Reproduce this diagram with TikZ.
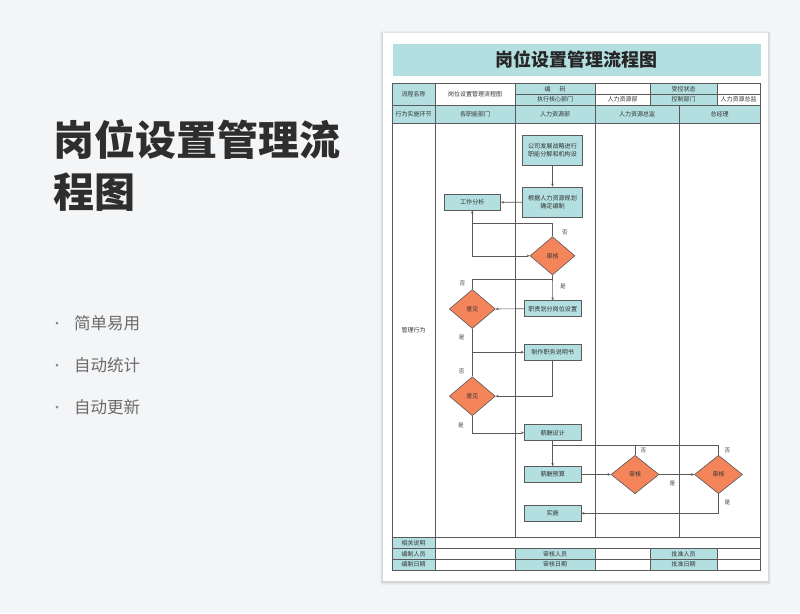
\documentclass[tikz,border=0pt]{standalone}
\usepackage{fontspec}
\setmainfont{Noto Sans CJK SC}
\usetikzlibrary{shapes.geometric,arrows.meta}
\definecolor{bgc}{HTML}{F4F5F7}
\definecolor{teal}{HTML}{B3DFE0}
\definecolor{orng}{HTML}{F4845A}
\definecolor{lnc}{HTML}{5A5A5A}
\definecolor{ttl}{HTML}{2E2E2E}
\definecolor{bul}{HTML}{6A6A6A}
\tikzset{
  proc/.style={rectangle,draw=lnc,line width=0.7pt,fill=teal,minimum width=56.7pt,minimum height=16pt,inner sep=1pt,font=\fontsize{6.1}{8}\selectfont,align=center,text=black!80},
  dec/.style={diamond,draw=lnc,line width=0.6pt,fill=orng,minimum width=46pt,minimum height=39pt,inner sep=0pt,font=\fontsize{6}{7}\selectfont,text=black!80},
  arr/.style={draw=lnc,line width=0.6pt,-{Stealth[length=3pt,width=2.6pt]}},
  ln/.style={draw=lnc,line width=0.6pt},
  lbl/.style={font=\fontsize{5.6}{6}\selectfont,text=black!75,inner sep=0pt},
  cell/.style={font=\fontsize{6}{7}\selectfont,text=black!80,inner sep=0pt},
  grid/.style={draw=lnc,line width=0.6pt}
}
\begin{document}
\begin{tikzpicture}[x=1pt,y=-1pt]
\useasboundingbox (0,0) rectangle (800,613);
\fill[bgc] (0,0) rectangle (800,613);
% left text
\node[anchor=west,text=ttl,font=\fontsize{41}{48}\bfseries\selectfont,inner sep=0pt] (bigt1) at (53,140) {岗位设置管理流};
\node[anchor=west,text=ttl,font=\fontsize{41}{48}\bfseries\selectfont,inner sep=0pt] (bigt2) at (53,192) {程图};
\foreach \yy/\tt [count=\i] in {323/简单易用,365/自动统计,407/自动更新}{
  \fill[bul!80] (57,\yy) circle (1.5pt);
  \node[anchor=west,text=bul,font=\fontsize{16.5}{20}\selectfont,inner sep=0pt] (bl\i) at (74,\yy) {\tt};
}
% paper with shadow
\foreach \k/\op in {3/0.03,2/0.04,1/0.06}{
  \fill[black,opacity=\op] (383.3-\k,33.3-\k+1) rectangle (768.3+\k,580.7+\k+1);
}
\fill[white] (383.3,33.3) rectangle (768.3,580.7);
% title bar
\fill[teal] (392.5,43.5) rectangle (760.5,76);
\node[font=\fontsize{18}{22}\bfseries\selectfont,text=black!85,inner sep=0pt] (title) at (576.5,60) {岗位设置管理流程图};
% table fills
\def\ca{392.5}\def\cb{435}\def\cc{515}\def\cd{595}\def\ce{650}\def\cf{717}\def\cg{760.5}\def\ch{679}
\def\ra{83.3}\def\rb{94.3}\def\rc{105}\def\rd{123.5}\def\re{537.3}\def\rf{548.3}\def\rg{559.3}\def\rh{570}
\fill[teal] (\ca,\ra) rectangle (\cb,\rc);
\fill[teal] (\cc,\ra) rectangle (\cd,\rc);
\fill[teal] (\ce,\ra) rectangle (\cf,\rc);
\fill[teal] (\ca,\rc) rectangle (\cg,\rd);
\fill[teal] (\ca,\re) rectangle (\cb,\rh);
\fill[teal] (\cc,\rf) rectangle (\cd,\rh);
\fill[teal] (\ce,\rf) rectangle (\cf,\rh);
% grid
\draw[grid] (\ca,\ra) rectangle (\cg,\rh);
\draw[grid] (\cc,\rb) -- (\cg,\rb);
\foreach \r in {\rc,\rd,\re,\rf,\rg}{\draw[grid] (\ca,\r) -- (\cg,\r);}
\draw[grid] (\cb,\ra) -- (\cb,\rh);
\draw[grid] (\cc,\ra) -- (\cc,\re) (\cc,\rf) -- (\cc,\rh);
\draw[grid] (\cd,\ra) -- (\cd,\re) (\cd,\rf) -- (\cd,\rh);
\draw[grid] (\ce,\ra) -- (\ce,\rc) (\ce,\rf) -- (\ce,\rh);
\draw[grid] (\cf,\ra) -- (\cf,\rc) (\cf,\rf) -- (\cf,\rh);
\draw[grid] (\ch,\rc) -- (\ch,\re);
% table texts
\node[cell] (t1) at (413.7,94.2) {流程名称};
\node[cell] (t2) at (475,94.2) {岗位设置管理流程图};
\node[cell] (t3) at (555,88.8) {编\hspace{9pt}码};
\node[cell] (t4) at (683.5,88.8) {受控状态};
\node[cell] (t5) at (555,99.7) {执行核心部门};
\node[cell] (t6) at (622.5,99.7) {人力资源部};
\node[cell] (t7) at (683.5,99.7) {控制部门};
\node[cell] (t8) at (738.7,99.7) {人力资源总监};
\node[cell] (h1) at (413.7,114.2) {行为实施环节};
\node[cell] (h2) at (475,114.2) {各职能部门};
\node[cell] (h3) at (555,114.2) {人力资源部};
\node[cell] (h4) at (637,114.2) {人力资源总监};
\node[cell] (h5) at (719.7,114.2) {总经理};
\node[cell] (m1) at (413.7,330) {管理行为};
\node[cell] (f1) at (413.7,542.8) {相关说明};
\node[cell] (f2) at (413.7,553.8) {编制人员};
\node[cell] (f3) at (555,553.8) {审核人员};
\node[cell] (f4) at (683.5,553.8) {批准人员};
\node[cell] (f5) at (413.7,564.6) {编制日期};
\node[cell] (f6) at (555,564.6) {审核日期};
\node[cell] (f7) at (683.5,564.6) {批准日期};
% flow nodes
\node[proc,minimum width=60.4pt,minimum height=30.7pt] (b1) at (552.5,150.3) {公司发展战略进行\\职能分解和机构设};
\node[proc,minimum width=60.4pt,minimum height=30.3pt] (b2) at (552.5,202.2) {根据人力资源规划\\确定编制};
\node[proc] (gz) at (472.3,202.3) {工作分析};
\node[dec,minimum width=45pt,minimum height=38.3pt] (d1) at (552.5,255.8) {审核};
\node[proc] (b3) at (552.7,308.7) {职责划分岗位设置};
\node[dec] (d2) at (472.3,309) {意见};
\node[proc] (b4) at (552.7,352.2) {制作职务说明书};
\node[dec] (d3) at (472.3,396.2) {意见};
\node[proc] (b5) at (552.7,432.8) {薪酬设计};
\node[proc] (b6) at (552.7,474.5) {薪酬预算};
\node[dec,minimum width=48pt,minimum height=38.4pt] (d4) at (635,474.5) {审核};
\node[dec,minimum width=48pt,minimum height=38.4pt] (d5) at (718.5,474.5) {审核};
\node[proc] (b7) at (552.7,513.3) {实施};
% connectors
\coordinate (j1) at (552.5,223.3);
\coordinate (j2) at (552.5,279.3);
\coordinate (j3) at (552.5,445);
\draw[arr] (b1) -- (b2);
\draw[arr] (b2) -- (gz);
\draw[arr] (gz.south) |- (d1.west);
\draw[arr] (d1.north) -- (j1) -| (gz.south);
\draw[arr] (d1.south) -- (b3.north);
\draw[arr] (b3.west) -- (d2.east);
\draw[ln] (d2.north) |- (j2);
\draw[arr] (d2.south) |- (b4.west);
\draw[arr] (b4.south) |- (d3.east);
\draw[ln] (d3.north) -- (d3.north |- b4.west);
\draw[arr] (d3.south) |- (b5.west);
\draw[arr] (b5) -- (b6);
\draw[ln] (d5.north) |- (j3);
\draw[ln] (d4.north) -- (d4.north |- j3);
\draw[arr] (b6.east) -- (d4.west);
\draw[arr] (d4.east) -- (d5.west);
\draw[arr] (d5.south) |- (b7.east);
% labels
\node[lbl] (l1) at (565,232.7) {否};
\node[lbl] (l2) at (563,286) {是};
\node[lbl] (l3) at (462.3,283.3) {否};
\node[lbl] (l4) at (461.7,337.3) {是};
\node[lbl] (l5) at (461.7,371.7) {否};
\node[lbl] (l6) at (461,425) {是};
\node[lbl] (l7) at (643.3,451) {否};
\node[lbl] (l8) at (727.3,451) {否};
\node[lbl] (l9) at (672.3,483.3) {是};
\node[lbl] (l10) at (727.3,502.7) {是};
\end{tikzpicture}
\end{document}
